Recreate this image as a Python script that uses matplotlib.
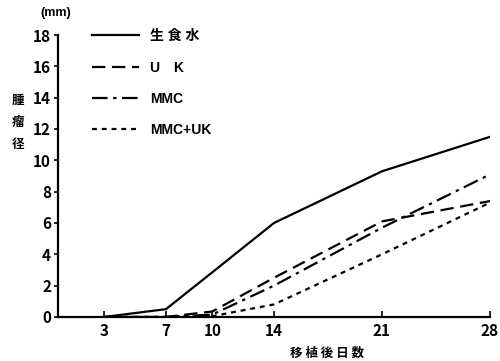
import matplotlib.pyplot as plt
from matplotlib.lines import Line2D

plt.rcParams['font.family'] = ['Liberation Sans Narrow', 'Noto Sans CJK JP', 'DejaVu Sans']
plt.rcParams['font.weight'] = 'bold'

days = [3, 7, 10, 14, 21, 28]
saline = [0, 0.5, 2.85, 6.0, 9.3, 11.5]
uk = [0, 0, 0.35, 2.5, 6.1, 7.4]
mmc = [0, 0, 0.15, 2.0, 5.7, 9.1]
mmc_uk = [0, 0, 0.05, 0.8, 4.0, 7.3]

labels = ['生 食 水', 'U　K', 'MMC', 'MMC+UK']
xticks = [3, 7, 10, 14, 21, 28]
yticks = [0, 2, 4, 6, 8, 10, 12, 14, 16, 18]

styles = [
    dict(ls='-'),
    dict(ls=(0, (6, 3))),
    dict(ls=(0, (7, 2.5, 1.5, 2.5))),
    dict(ls=(0, (2.2, 2.2))),
]

fig = plt.figure(figsize=(5, 3.61), dpi=100)
ax = fig.add_axes([0.116, 0.122, 0.864, 0.781])

for vals, st in zip([saline, uk, mmc, mmc_uk], styles):
    ax.plot(days, vals, color='black', lw=1.6, **st)

ax.set_xlim(0, 28)
ax.set_ylim(0, 18)
ax.set_xticks(xticks)
ax.set_yticks(yticks)
ax.tick_params(axis='x', direction='in', length=4, width=1.2, labelsize=11, pad=4)
ax.tick_params(axis='y', direction='out', length=3, width=1.2, labelsize=11, pad=2)
for s in ['top', 'right']:
    ax.spines[s].set_visible(False)
for s in ['left', 'bottom']:
    ax.spines[s].set_linewidth(1.6)

handles = [Line2D([], [], color='black', lw=1.6, **st) for st in styles]
ax.legend(handles, labels, loc='upper left', bbox_to_anchor=(0.05, 1.065),
          frameon=False, handlelength=3.4, handletextpad=0.8,
          labelspacing=1.25, prop=dict(size=10, weight='bold',
                                       family=['Liberation Sans', 'Noto Sans CJK JP']))

fig.text(0.08, 0.955, '(mm)', fontsize=9, fontweight='bold',
         family=['Liberation Sans', 'DejaVu Sans'])
fig.text(0.036, 0.662, '腫\n瘤\n径', fontsize=9, fontweight='bold', ha='center', va='center',
         linespacing=1.9, family='Noto Sans CJK JP')
fig.text(0.655, 0.012, '移 植 後 日 数', fontsize=9, fontweight='bold', ha='center',
         family='Noto Sans CJK JP')

fig.savefig('out.png', dpi=100)
